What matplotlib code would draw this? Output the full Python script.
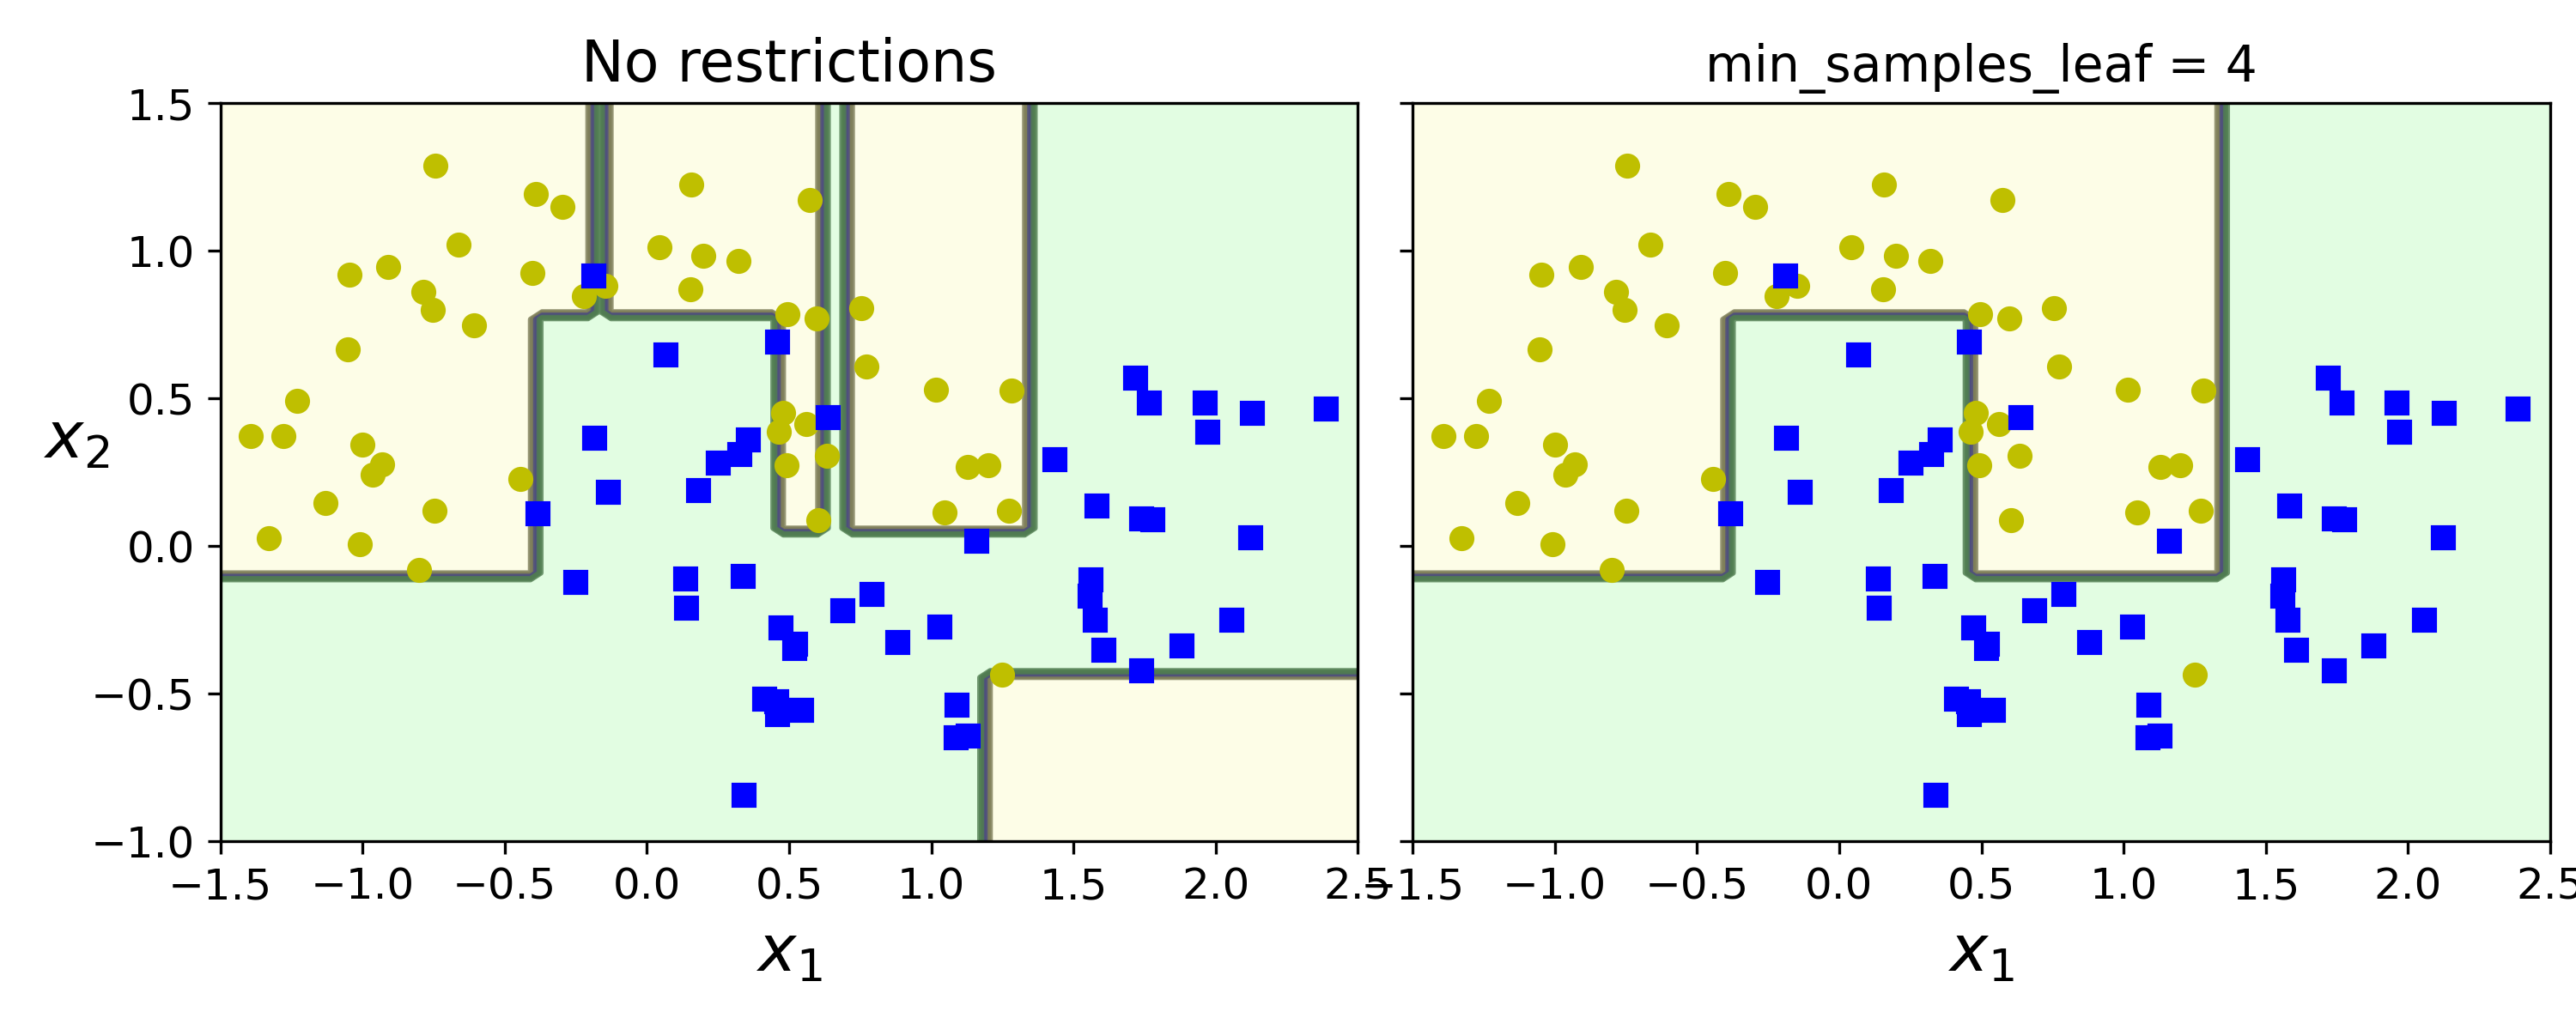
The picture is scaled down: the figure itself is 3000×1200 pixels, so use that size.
import numpy as np
import matplotlib
matplotlib.use("Agg")
import matplotlib.pyplot as plt
from matplotlib.colors import ListedColormap

# class 0 (yellow circles)
yel_x = [-0.745,-0.390,-0.296,-0.663,-1.046,-0.909,-0.785,-0.754,-0.608,-0.402,-0.220,-0.147,
         -1.052,-1.231,-1.392,-1.277,-1.000,-0.930,-0.964,-0.444,-1.131,-1.328,-1.009,-0.748,-0.800,
         0.157,0.573,0.044,0.199,0.321,0.154,0.494,0.597,0.755,0.773,1.016,0.479,0.463,0.561,0.491,
         0.634,1.129,1.199,0.603,1.047,1.281,1.272,1.250]
yel_y = [1.288,1.192,1.148,1.020,0.919,0.945,0.860,0.799,0.747,0.924,0.846,0.881,
         0.666,0.491,0.372,0.372,0.343,0.276,0.241,0.227,0.145,0.026,0.006,0.119,-0.081,
         1.224,1.171,1.012,0.983,0.965,0.869,0.785,0.770,0.805,0.608,0.529,0.451,0.387,0.413,0.273,
         0.305,0.267,0.273,0.087,0.113,0.526,0.119,-0.436]
# class 1 (blue squares)
blu_x = [-0.189,-0.186,-0.138,-0.384,-0.253,0.066,0.457,0.637,0.354,0.324,0.251,0.181,0.136,0.139,
         0.336,0.470,0.521,0.518,0.686,0.789,0.880,1.029,1.159,0.412,0.454,0.457,0.542,0.339,1.088,
         1.085,1.127,1.718,1.766,1.960,1.969,2.127,2.386,1.433,1.582,1.739,1.776,2.122,1.560,1.557,
         1.575,1.606,1.739,1.879,2.055]
blu_y = [0.916,0.366,0.183,0.110,-0.122,0.648,0.692,0.436,0.360,0.311,0.282,0.189,-0.110,-0.209,
         -0.102,-0.276,-0.331,-0.346,-0.218,-0.163,-0.326,-0.273,0.017,-0.517,-0.526,-0.570,-0.555,-0.843,-0.538,
         -0.648,-0.642,0.570,0.485,0.485,0.387,0.451,0.465,0.294,0.137,0.093,0.090,0.029,-0.113,-0.169,
         -0.250,-0.352,-0.422,-0.337,-0.250]

# yellow-class regions (x_min, x_max, y_min, y_max)
regions_left = [(-1.6,-0.40,-0.10,1.6), (-0.40,-0.19,0.78,1.6), (-0.155,0.455,0.78,1.6),
                (0.455,0.615,0.055,1.6), (0.69,1.34,0.055,1.6), (1.185,2.6,-1.1,-0.433)]
regions_right = [(-1.6,-0.40,-0.10,1.6), (-0.40,0.455,0.78,1.6), (0.455,1.34,-0.10,1.6)]
titles = ["No restrictions", "min_samples_leaf = 4"]
title_sizes = [16, 14]

plt.rcParams.update({'xtick.labelsize': 12, 'ytick.labelsize': 12})
fig, axes = plt.subplots(1, 2, figsize=(10, 4), dpi=300, sharey=True)
fig.subplots_adjust(left=0.0855, right=0.99, bottom=0.183, top=0.9, wspace=0.048)

cmap1 = ListedColormap(['#fafab0', '#9898ff', '#a0faa0'])
cmap2 = ListedColormap(['#7d7d58', '#4c4c7f', '#507d50'])
x1s = np.linspace(-1.5, 2.5, 100)
x2s = np.linspace(-1.0, 1.5, 100)
X1, X2 = np.meshgrid(x1s, x2s)

for ax, regs, t, ts in zip(axes, [regions_left, regions_right], titles, title_sizes):
    Z = np.ones_like(X1)
    for (a, b, c, d) in regs:
        Z[(X1 >= a) & (X1 < b) & (X2 >= c) & (X2 <= d)] = 0
    ax.contourf(X1, X2, Z, alpha=0.3, cmap=cmap1)
    ax.contour(X1, X2, Z, cmap=cmap2, alpha=0.8)
    ax.plot(yel_x, yel_y, "yo")
    ax.plot(blu_x, blu_y, "bs")
    ax.set_xlim(-1.5, 2.5)
    ax.set_ylim(-1.0, 1.5)
    ax.set_title(t, fontsize=ts)
    ax.set_xlabel(r"$x_1$", fontsize=18)
axes[0].set_ylabel(r"$x_2$", fontsize=18, rotation=0)
fig.savefig("out.png", dpi=300)
